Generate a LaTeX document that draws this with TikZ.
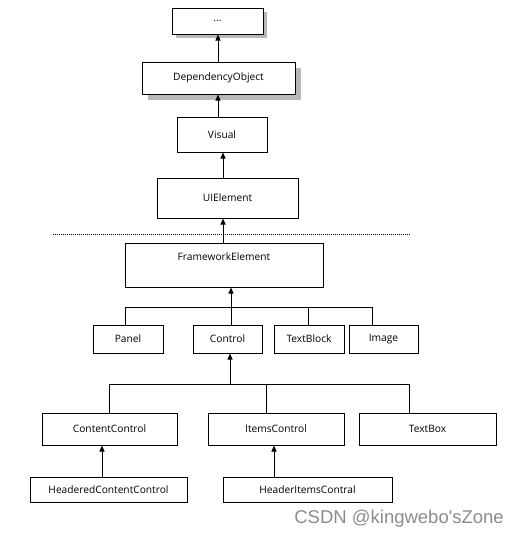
\documentclass[tikz,border=0pt]{standalone}
\usepackage{fontspec}
\setmainfont{Open Sans}
\newfontfamily\wmfont{Liberation Sans}
\usetikzlibrary{arrows.meta}
\begin{document}
\begin{tikzpicture}[x=1pt,y=-1pt,
  box/.style={draw,line width=1pt,fill=white,inner sep=0pt,font=\fontsize{10.2}{12}\selectfont},
  arr/.style={line width=1pt,-{Triangle[width=5pt,length=6pt]}},
  ln/.style={line width=1pt}]
\useasboundingbox (0,0) rectangle (520,539);
% shadows
\fill[black!28] (176,12) rectangle (267,38);
\fill[black!28] (148,68) rectangle (301,100);
\node[box,minimum width=91,minimum height=26] (dots) at (217.5,21) {...};
\node[box,minimum width=153,minimum height=32] (dep) at (218.5,78) {DependencyObject};
\node[box,minimum width=90,minimum height=35] (vis) at (222,134.5) {Visual};
\node[box,minimum width=141,minimum height=40] (uie) at (227.5,198) {UIElement};
\node[box,minimum width=198,minimum height=44,label={[anchor=center,yshift=-14pt,font=\fontsize{10.2}{12}\selectfont]north:FrameworkElement}] (fe) at (224,265) {};
\node[box,minimum width=70,minimum height=28] (panel) at (128,339) {Panel};
\node[box,minimum width=69,minimum height=28] (ctrl) at (227.5,339) {Control};
\node[box,minimum width=70,minimum height=28] (tb) at (309,339) {TextBlock};
\node[box,minimum width=69,minimum height=28] (img) at (383.5,339) {Image};
\node[box,minimum width=135,minimum height=32] (cc) at (109.5,429) {ContentControl};
\node[box,minimum width=136,minimum height=32] (ic) at (276,429) {ItemsControl};
\node[box,minimum width=137,minimum height=32] (tbox) at (427.5,429) {TextBox};
\node[box,minimum width=157,minimum height=25] (hcc) at (108.5,489.5) {HeaderedContentControl};
\node[box,minimum width=169,minimum height=25] (hic) at (307.5,489.5) {HeaderItemsContral};
% arrows
\draw[arr] (dep.north -| 218,0) -- (dots.south -| 218,0);
\draw[arr] (vis.north -| 218,0) -- (dep.south -| 218,0);
\draw[arr] (uie.north -| 223,0) -- (vis.south -| 223,0);
\draw[arr] (fe.north -| 223,0) -- (uie.south -| 223,0);
% dotted separator
\coordinate (d1) at (53,234);
\coordinate (d2) at (410,234);
\draw[line width=0.8pt,dash pattern=on 1pt off 1pt] (d1) -- (d2);
% FE bus
\coordinate (b1) at (125.5,307);
\coordinate (b2) at (372,307);
\draw[ln] (b1) -- (b2);
\draw[ln] (b1) -- (panel.north -| b1);
\draw[ln] (tb.north -| 308,0) -- (308,307);
\draw[ln] (b2) -- (img.north -| b2);
\draw[arr] (ctrl.north -| 231,0) -- (fe.south -| 231,0);
% Control bus
\coordinate (c1) at (109,384);
\coordinate (c2) at (409,384);
\draw[ln] (c1) -- (c2);
\draw[ln] (c1) -- (cc.north -| c1);
\draw[ln] (266,384) -- (ic.north -| 266,0);
\draw[ln] (c2) -- (tbox.north -| c2);
\draw[arr] (230,384) -- (ctrl.south -| 230,0);
% lower arrows
\draw[arr] (hcc.north -| 102,0) -- (cc.south -| 102,0);
\draw[arr] (hic.north -| 274,0) -- (ic.south -| 274,0);
% watermark
\node[anchor=east,text=black!45,font=\wmfont\fontsize{18.5}{20}\selectfont,inner sep=0pt] (wm) at (504,519) {CSDN @kingwebo'sZone};
\end{tikzpicture}
\end{document}
